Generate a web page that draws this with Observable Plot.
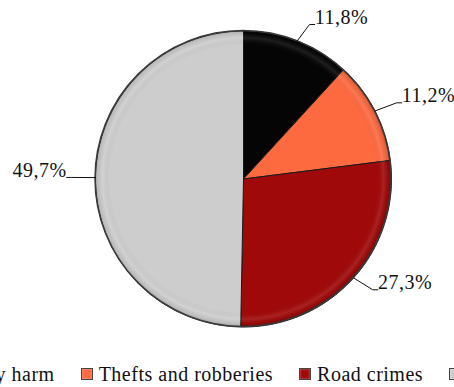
<!DOCTYPE html>
<html>
<head>
<meta charset="utf-8">
<script src="https://cdn.jsdelivr.net/npm/d3@7"></script>
<script src="https://cdn.jsdelivr.net/npm/@observablehq/plot@0.6"></script>
<style>
  body { margin: 0; padding: 0; background: #fff; overflow: hidden; }
  #chart svg { display: block; }
  .legend { width: 454px; display: flex; justify-content: center; white-space: nowrap;
    font-family: 'Liberation Serif', serif; font-size: 20px; line-height: 22px; letter-spacing: 0.5px; color: #111; margin-top: 18px; }
  .item { display: flex; align-items: center; margin: 0 13px; flex: none; }
  .sw { width: 10px; height: 10px; border: 1px solid #444; margin-right: 6px; box-shadow: inset 0 0 2px rgba(255,255,255,0.6); }
</style>
</head>
<body>
<div id="chart"></div>
<script>
// ---- data ----
const categories = ["Bodily harm", "Thefts and robberies", "Road crimes", "Others"];
const shares = [11.8, 11.2, 27.3, 49.7];
const labels = ["11,8%", "11,2%", "27,3%", "49,7%"];
const colors = ["#050505", "#fd6a40", "#a00909", "#cdcdcd"];

// ---- geometry from data (unit circle, clockwise from 12 o'clock) ----
const pie = d3.pie().sort(null).value(d => d)(shares);
const slices = pie.map((p, i) => {
  const pts = [{x: 0, y: 0}];
  const n = Math.max(2, Math.ceil((p.endAngle - p.startAngle) / 0.01));
  for (let k = 0; k <= n; k++) {
    const a = p.startAngle + (p.endAngle - p.startAngle) * k / n;
    pts.push({x: Math.sin(a), y: Math.cos(a)});
  }
  pts.push({x: 0, y: 0});
  return pts;
});
const labelData = pie.map((p, i) => {
  const a = (p.startAngle + p.endAngle) / 2;
  const sx = Math.sin(a), sy = Math.cos(a);
  const side = sx >= 0 ? 1 : -1;
  return {label: labels[i], a, side,
    x0: sx, y0: sy, x1: sx * 1.12 + side * 0.04, y1: sy * 1.12, x2: sx * 1.12 + side * 0.075, y2: sy * 1.12};
});
const leaders = labelData.flatMap((d, i) => [
  {x: d.x0, y: d.y0, k: i}, {x: d.x1, y: d.y1, k: i}, {x: d.x2, y: d.y2, k: i}
]);

// overlay (bevel shading) as custom mark using the plot's scales
function bevel(index, scales) {
  const cx = scales.x(0), cy = scales.y(0), r = scales.x(1) - scales.x(0);
  const g = d3.create("svg:g");
  const defs = g.append("defs");
  const rg = defs.append("radialGradient").attr("id", "bev").attr("gradientUnits", "userSpaceOnUse")
    .attr("cx", cx).attr("cy", cy).attr("r", r);
  [[0, "#000", 0], [0.9, "#000", 0], [0.95, "#fff", 0.1], [0.985, "#000", 0.08], [1, "#000", 0.28]]
    .forEach(([o, c, a]) => rg.append("stop").attr("offset", o).attr("stop-color", c).attr("stop-opacity", a));
  g.append("circle").attr("cx", cx).attr("cy", cy).attr("r", r).attr("fill", "url(#bev)");
  g.append("circle").attr("cx", cx).attr("cy", cy).attr("r", r).attr("fill", "none")
    .attr("stroke", "#3a3a3a").attr("stroke-width", 1.5);
  return g.node();
}

const marks = [];
slices.forEach((pts, i) => {
  marks.push(Plot.line(pts, {x: "x", y: "y", fill: colors[i], stroke: "#1a1a1a", strokeWidth: 1, curve: "linear"}));
});
marks.push(bevel);
marks.push(Plot.line(leaders, {x: "x", y: "y", z: "k", stroke: "#111", strokeWidth: 1}));
marks.push(Plot.text(labelData, {
  x: "x2", y: "y2", text: "label",
  dy: -7,
  fontFamily: "Liberation Serif", fontSize: 20, fill: "#111"
}));

const chart = Plot.plot({
  width: 454, height: 345,
  marginLeft: 95, marginRight: 63, marginTop: 30.5, marginBottom: 18.5,
  x: {domain: [-1, 1], axis: null},
  y: {domain: [-1, 1], axis: null},
  style: {background: "#fff", overflow: "visible", fontFamily: "Liberation Serif", fontSize: "20px"},
  marks
});
document.getElementById("chart").appendChild(chart);

const texts = chart.querySelectorAll("g[aria-label='text'] text");
texts.forEach((t, i) => {
  t.setAttribute("text-anchor", labelData[i].side > 0 ? "start" : "end");
  t.setAttribute("letter-spacing", "0.5");
});

// legend
const legend = d3.select("body").append("div").attr("class", "legend");
categories.forEach((c, i) => {
  const it = legend.append("div").attr("class", "item");
  it.append("div").attr("class", "sw").style("background", colors[i]);
  it.append("span").text(c);
});
</script>
</body>
</html>
